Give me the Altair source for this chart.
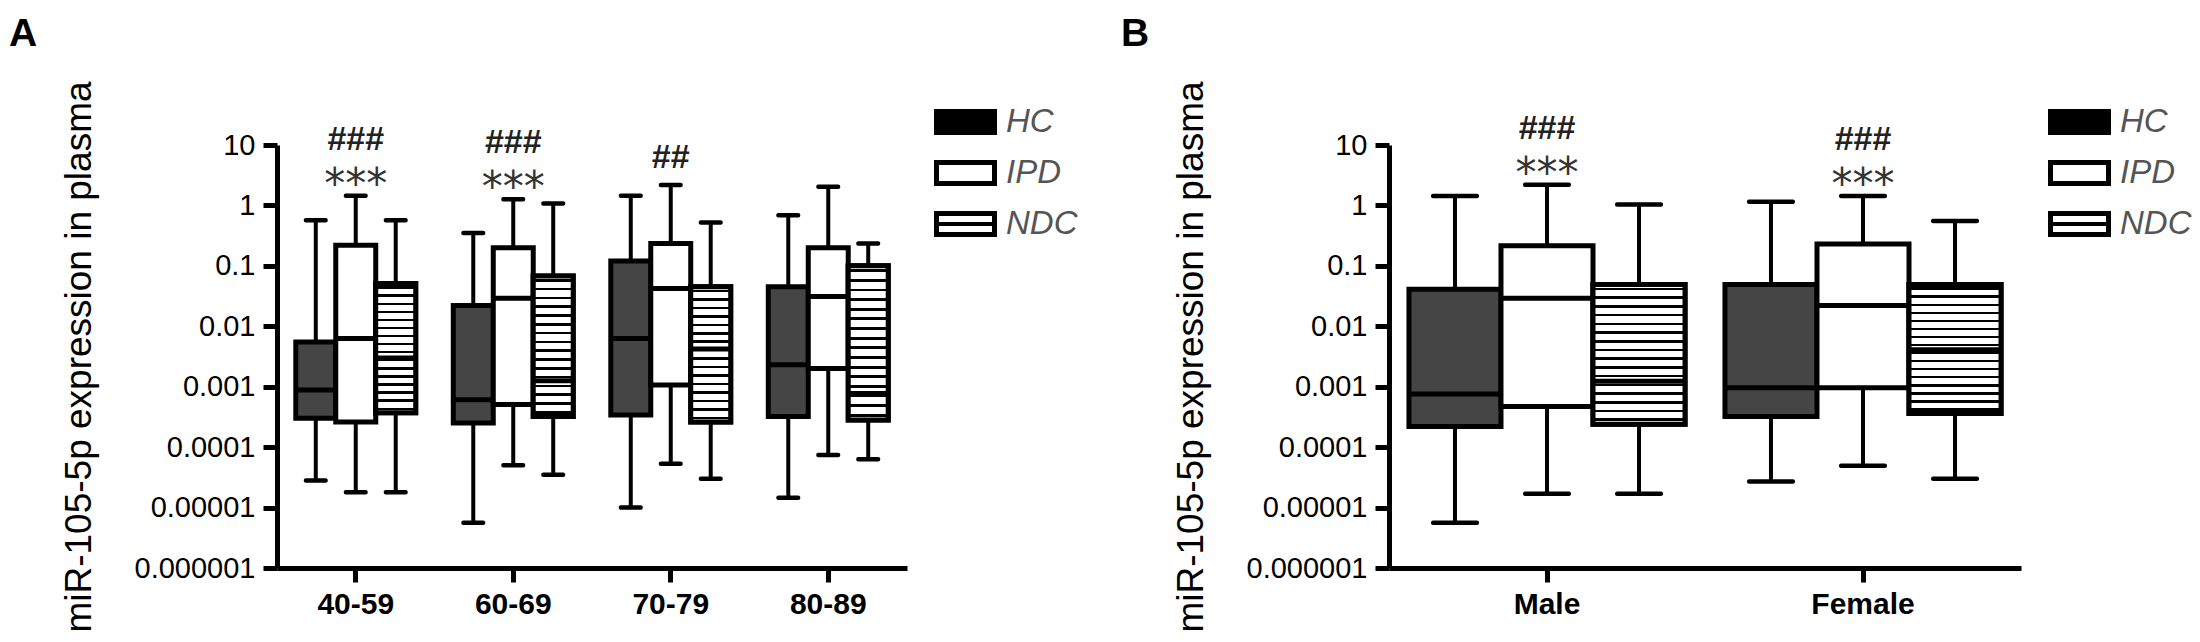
import altair as alt
import pandas as pd

FONT = "Liberation Sans"

groups = ["HC", "IPD", "NDC"]
age_groups = ["40-59", "60-69", "70-79", "80-89"]
sexes = ["Male", "Female"]
y_ticks = [1e-6, 1e-5, 1e-4, 1e-3, 1e-2, 1e-1, 1, 10]

# Panel A: per age group, values for HC, IPD, NDC
a_low = [2.8e-5, 1.8e-5, 1.8e-5, 5.6e-6, 5.0e-5, 3.5e-5, 1.0e-5, 5.3e-5, 3.0e-5, 1.45e-5, 7.4e-5, 6.3e-5]
a_q1 = [3.0e-4, 2.6e-4, 3.7e-4, 2.5e-4, 5.1e-4, 3.2e-4, 3.4e-4, 1.07e-3, 2.6e-4, 3.2e-4, 2.0e-3, 2.8e-4]
a_med = [8.8e-4, 6.3e-3, 3.0e-3, 6.1e-4, 2.9e-2, 1.26e-3, 6.3e-3, 4.2e-2, 4.2e-3, 2.3e-3, 3.1e-2, 7.7e-4]
a_q3 = [5.5e-3, 0.22, 0.051, 0.022, 0.20, 0.068, 0.12, 0.235, 0.045, 0.045, 0.20, 0.10]
a_high = [0.57, 1.45, 0.57, 0.35, 1.26, 1.08, 1.45, 2.18, 0.52, 0.69, 2.04, 0.235]
a_stars = ["***", "***", "", ""]
a_hashes = ["###", "###", "##", ""]

# Panel B: per sex, values for HC, IPD, NDC
b_low = [5.6e-6, 1.7e-5, 1.7e-5, 2.7e-5, 4.9e-5, 3.0e-5]
b_q1 = [2.2e-4, 4.7e-4, 2.4e-4, 3.2e-4, 9.6e-4, 3.6e-4]
b_med = [7.6e-4, 2.9e-2, 1.23e-3, 9.6e-4, 2.2e-2, 4.1e-3]
b_q3 = [0.041, 0.215, 0.049, 0.049, 0.23, 0.049]
b_high = [1.43, 2.2, 1.04, 1.15, 1.43, 0.55]
b_stars = ["***", "***"]
b_hashes = ["###", "###"]

Y_TITLE = "miR-105-5p expression in plasma"


def box_frame(cats, low, q1, med, q3, high):
    rows = []
    k = 0
    for c in cats:
        for g in groups:
            rows.append(dict(cat=c, group=g, low=low[k], q1=q1[k], med=med[k], q3=q3[k], high=high[k]))
            k += 1
    return pd.DataFrame(rows)


def ann_frame(cats, high, stars, hashes):
    tops = [high[3 * i + 1] for i in range(len(cats))]
    return pd.DataFrame(dict(cat=cats, top=tops, stars=stars, hashes=hashes))


def stripes(n, frac):
    stops = [{"offset": 0, "color": "white"}]
    for i in range(n):
        c = (i + 0.5) / n
        a = round(c - frac / (2 * n), 4)
        b = round(c + frac / (2 * n), 4)
        stops += [
            {"offset": a, "color": "white"},
            {"offset": a, "color": "black"},
            {"offset": b, "color": "black"},
            {"offset": b, "color": "white"},
        ]
    stops.append({"offset": 1, "color": "white"})
    return {"gradient": "linear", "x1": 0, "y1": 0, "x2": 0, "y2": 1, "stops": stops}


yscale = alt.Scale(type="log", domain=[1e-6, 10], nice=False)
yaxis = alt.Axis(
    values=y_ticks, format="~f", title=Y_TITLE, labelFontSize=29, labelPadding=8,
    titleFontSize=37, titleFontWeight="normal", titlePadding=36,
)


def Y(field):
    return alt.Y(field, scale=yscale, axis=yaxis)


def panel(cats, df, ann, width, off_pad, box_w, cap_w, letter):
    xenc = alt.X(
        "cat:N", sort=cats,
        scale=alt.Scale(domain=cats, paddingInner=0, paddingOuter=0),
        axis=alt.Axis(title=None, labelAngle=0, labelFontSize=30, labelFontWeight="bold", labelPadding=7),
    )
    xoff = alt.XOffset("group:N", sort=groups,
                       scale=alt.Scale(domain=groups, paddingInner=0, paddingOuter=off_pad))
    base = alt.Chart(df).encode(x=xenc, xOffset=xoff)
    whisk = base.mark_rule(color="black", strokeWidth=4, opacity=1).encode(y=Y("low:Q"), y2="high:Q")
    boxes = base.mark_bar(stroke="black", strokeWidth=5, opacity=1).encode(
        y=Y("q1:Q"), y2="q3:Q",
        fill=alt.Fill("group:N", scale=alt.Scale(domain=groups, range=["#454545", "#ffffff", "#ffffff"]), legend=None),
    )
    hatch = base.transform_filter(alt.datum.group == "NDC").mark_bar(
        stroke="black", strokeWidth=5, fill=stripes(16, 0.3), opacity=1
    ).encode(y=Y("q1:Q"), y2="q3:Q")
    meds = base.mark_tick(color="black", thickness=5, size=box_w, orient="horizontal",
                          opacity=1).encode(y=Y("med:Q"))
    caps_lo = base.mark_tick(color="black", thickness=4.5, size=cap_w, orient="horizontal",
                             cornerRadius=2, opacity=1).encode(y=Y("low:Q"))
    caps_hi = base.mark_tick(color="black", thickness=4.5, size=cap_w, orient="horizontal",
                             cornerRadius=2, opacity=1).encode(y=Y("high:Q"))
    abase = alt.Chart(ann).encode(x=xenc, y=Y("top:Q"))
    stars = abase.transform_filter("datum.stars != ''").mark_text(
        font="DejaVu Sans", fontSize=42, color="#333333", baseline="alphabetic", dy=2
    ).encode(text="stars:N")
    hashes3 = abase.transform_filter("datum.stars != '' && datum.hashes != ''").mark_text(
        font=FONT, fontSize=34, fontWeight="bold", color="#222222", baseline="alphabetic", dy=-46
    ).encode(text="hashes:N")
    hashes2 = abase.transform_filter("datum.stars == '' && datum.hashes != ''").mark_text(
        font=FONT, fontSize=34, fontWeight="bold", color="#222222", baseline="alphabetic", dy=-17
    ).encode(text="hashes:N")
    return alt.layer(whisk, boxes, hatch, meds, caps_lo, caps_hi, stars, hashes3, hashes2).properties(
        width=width, height=423,
        title=alt.Title(letter, anchor="start", frame="group", orient="top", dx=-268, dy=4, offset=0,
                        fontSize=39, fontWeight="bold", font=FONT, color="black", baseline="alphabetic"),
    )


def legend_chart(width):
    ldf = pd.DataFrame({"group": groups})
    ly = alt.Y("group:N", sort=groups,
               scale=alt.Scale(domain=groups, range=[-48.5, 104.5], paddingInner=0.588, paddingOuter=0.294),
               axis=None)
    lb = alt.Chart(ldf).encode(y=ly)
    sw = lb.mark_bar(stroke="black", strokeWidth=5, opacity=1).encode(
        x=alt.value(2.5), x2=alt.value(60.5),
        fill=alt.Fill("group:N", scale=alt.Scale(domain=groups, range=["#000000", "#ffffff", "#ffffff"]), legend=None),
    )
    sw_h = lb.transform_filter(alt.datum.group == "NDC").mark_bar(
        stroke="black", strokeWidth=5, fill=stripes(1, 0.16), opacity=1
    ).encode(x=alt.value(2.5), x2=alt.value(60.5))
    tx = lb.mark_text(align="left", baseline="middle", font=FONT, fontSize=33, fontStyle="italic",
                      color="#555555").encode(x=alt.value(72), text="group:N")
    return alt.layer(sw, sw_h, tx).properties(width=width, height=423)


dfA = box_frame(age_groups, a_low, a_q1, a_med, a_q3, a_high)
annA = ann_frame(age_groups, a_high, a_stars, a_hashes)
dfB = box_frame(sexes, b_low, b_q1, b_med, b_q3, b_high)
annB = ann_frame(sexes, b_high, b_stars, b_hashes)

pA = panel(age_groups, dfA, annA, 630, 0.47, 39, 24, "A")
pB = panel(sexes, dfB, annB, 632, 0.217, 92, 48, "B")
legA = legend_chart(428)
legB = legend_chart(140)

chart = alt.hconcat(pA, legA, pB, legB, spacing=27, bounds="flush").resolve_scale(
    x="independent", y="independent", xOffset="independent", fill="independent"
).properties(padding={"top": 6, "left": 0, "right": 0, "bottom": 0}).configure_view(
    stroke="transparent"
).configure_axis(
    domainColor="black", tickColor="black", labelColor="black", titleColor="black", grid=False,
    labelFont=FONT, titleFont=FONT, domainWidth=5, tickWidth=5, tickSize=14,
)

chart.save("out.html", embed_options={"renderer": "svg", "actions": False})
